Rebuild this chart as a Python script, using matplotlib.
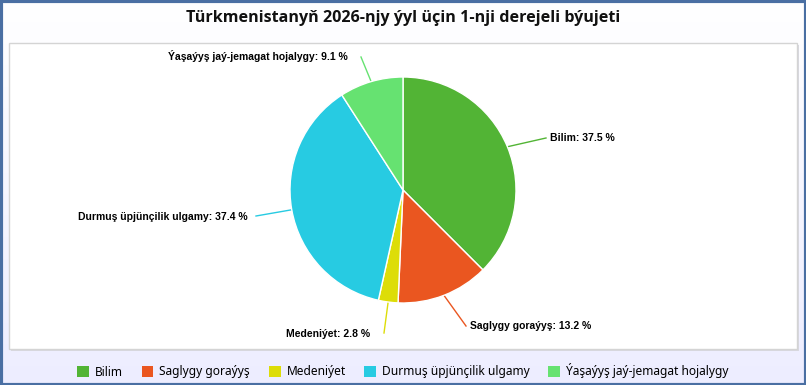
import numpy as np
import matplotlib
matplotlib.use("Agg")
from matplotlib import pyplot as plt
from matplotlib.patches import Rectangle, Patch

# budget shares, percent
categories = ["Bilim", "Saglygy goraýyş", "Medeniýet",
              "Durmuş üpjünçilik ulgamy", "Ýaşaýyş jaý-jemagat hojalygy"]
shares = [37.5, 13.2, 2.8, 37.4, 9.1]
colors = ["#52b435", "#ea5620", "#dddd08", "#27cbe2", "#66e271"]
title = "Türkmenistanyň 2026-njy ýyl üçin 1-nji derejeli býujeti"

# label placement (pixels, y down): text anchor, alignment, connector elbow
label_pos = [(550, 138, "left"), (470, 326, "left"), (370, 334, "right"),
             (248, 217, "right"), (348, 56, "right")]
elbows = [(546, 138), (466, 326), (384, 333), (256, 216), (361, 57)]

W, H = 806, 385
center = (403, 190)
radius = 113

fig = plt.figure(figsize=(W / 100, H / 100), dpi=100)
ax = fig.add_axes([0, 0, 1, 1])
ax.set_xlim(0, W)
ax.set_ylim(H, 0)
ax.axis("off")

# background gradient white -> lavender
grad = np.linspace(0, 1, 256)[:, None]
top = np.array([1.0, 1.0, 1.0])
bot = np.array([0.93, 0.93, 1.0])
img = top + (bot - top) * grad[..., None]
ax.imshow(img, extent=(0, W, H, 0), aspect="auto", zorder=0)

# plot area box with shadow
ax.add_patch(Rectangle((11, 45), 788, 306, facecolor="#d8d8e0", edgecolor="none", zorder=1))
ax.add_patch(Rectangle((9, 43), 788, 306, facecolor="white", edgecolor="#d4d4d4", lw=1, zorder=2))

# outer blue frame
ax.add_patch(Rectangle((0.5, 0.5), W - 1, H - 1, fill=False, edgecolor="#4a6fa3", lw=3, zorder=10))

ax.text(W / 2, 18, title, ha="center", va="center", fontsize=11.6,
        fontweight="bold", family="Open Sans", color="#111111", zorder=5)

# pie is drawn in pixel coords with y inverted, so counterclock=True appears clockwise
wedges, _ = ax.pie(shares, colors=colors, startangle=-90, counterclock=True,
                   center=center, radius=radius, frame=True,
                   wedgeprops=dict(edgecolor="white", linewidth=1))
for w in wedges:
    w.set_zorder(4)
ax.set_xlim(0, W)
ax.set_ylim(H, 0)
ax.set_aspect("auto")
ax.axis("off")

for w, cat, val, (lx, ly, ha), (ex, ey) in zip(wedges, categories, shares, label_pos, elbows):
    mid = np.deg2rad((w.theta1 + w.theta2) / 2)
    sx = center[0] + radius * np.cos(mid)
    sy = center[1] + radius * np.sin(mid)
    ax.plot([sx, ex], [sy, ey], color=w.get_facecolor(), lw=1, zorder=3)
    ax.text(lx, ly, f"{cat}: {val} %", ha=ha, va="center", fontsize=7.5,
            fontweight="bold", family="Liberation Sans", color="black", zorder=5)

handles = [Patch(facecolor=c, edgecolor="none") for c in colors]
fig.legend(handles, categories, loc="center", bbox_to_anchor=(0.5, 1 - 371 / H),
           ncol=5, frameon=False, handlelength=1.0, handleheight=1.0,
           handletextpad=0.5, columnspacing=1.55,
           prop=dict(family="Noto Sans", size=8.6))

fig.savefig("out.png", dpi=100)
